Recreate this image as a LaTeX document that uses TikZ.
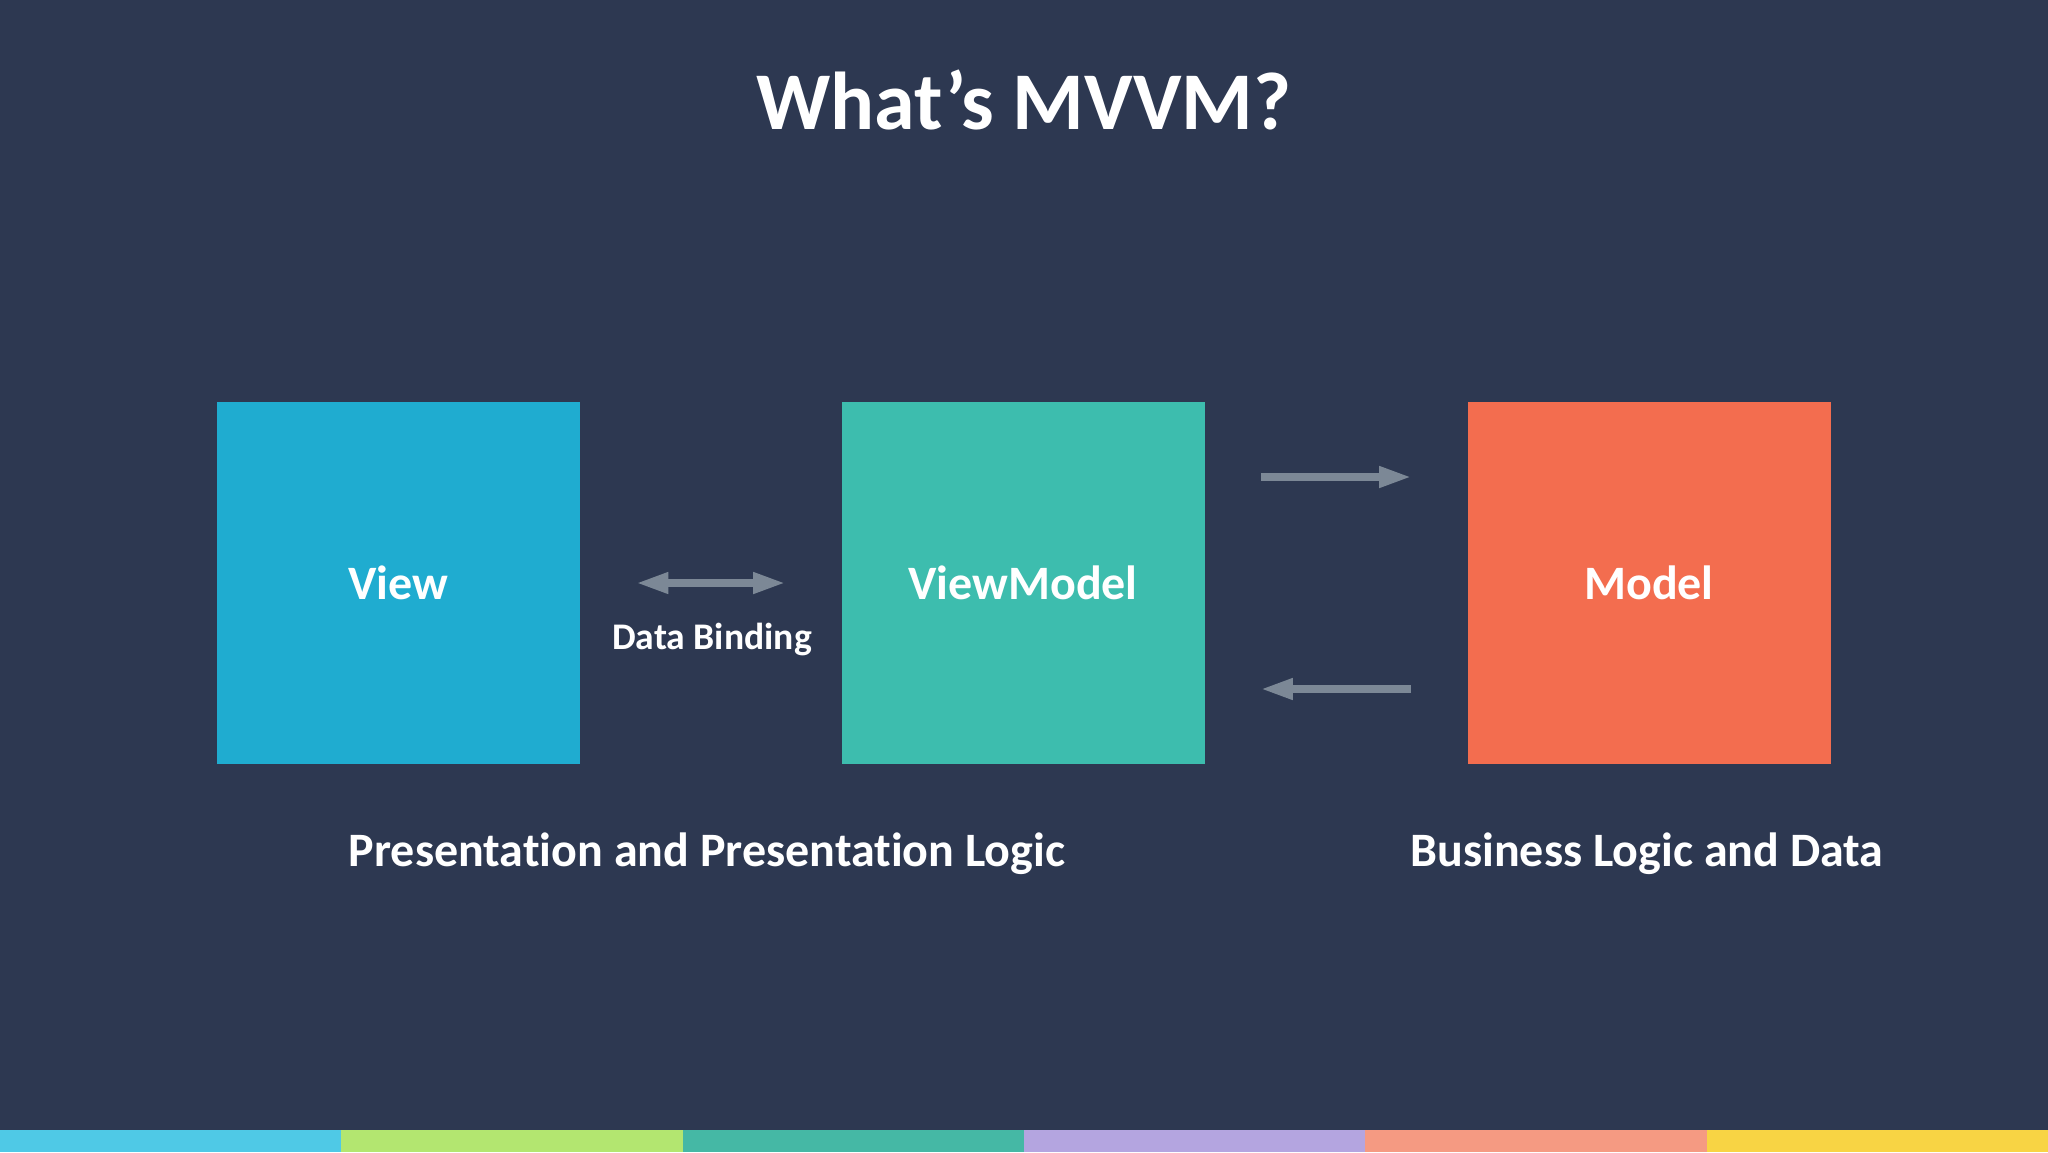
\documentclass[tikz,border=0pt]{standalone}
\usepackage{fontspec}
\setmainfont{Carlito}[Ligatures={NoCommon}]
\usetikzlibrary{arrows.meta}
\definecolor{bg}{HTML}{2D3851}
\definecolor{viewc}{HTML}{1FACD0}
\definecolor{vmc}{HTML}{3DBDAE}
\definecolor{modelc}{HTML}{F36D4F}
\definecolor{arrc}{HTML}{7C8896}
\definecolor{b1}{HTML}{4FC9E6}
\definecolor{b2}{HTML}{B3E670}
\definecolor{b3}{HTML}{45B8A5}
\definecolor{b4}{HTML}{B4A5E0}
\definecolor{b5}{HTML}{F59A82}
\definecolor{b6}{HTML}{F8D444}
\tikzset{
  box/.style={minimum width=181.5pt,minimum height=181pt,inner sep=0pt,text=white,font=\bfseries\fontsize{24}{28}\selectfont},
  lbl/.style={text=white,font=\bfseries\fontsize{24}{28}\selectfont,inner sep=0pt},
  conn/.style={draw=arrc,line width=3.6pt,shorten <=28pt,shorten >=28pt},
  tip/.style={-{Triangle[length=16pt,width=10pt]}},
  dtip/.style={{Triangle[length=16pt,width=10pt]}-{Triangle[length=16pt,width=10pt]}}
}
\begin{document}
\begin{tikzpicture}[x=0.5pt,y=-0.5pt]
\fill[bg] (0,0) rectangle (2048,1152);
\useasboundingbox (0,0) rectangle (2048,1152);
\node[text=white,font=\bfseries\fontsize{41}{48}\selectfont,inner sep=0pt] (title) at (1024,100) {What’s MVVM?};
\node[box,fill=viewc] (view) at (398.5,583) {View};
\node[box,fill=vmc] (vm) at (1023,583) {ViewModel};
\node[box,fill=modelc] (model) at (1649,583) {Model};
\draw[conn,dtip] (view.east) -- (vm.west);
\node[text=white,font=\bfseries\fontsize{18.8}{22}\selectfont,inner sep=0pt] (db) at (712,639) {Data Binding};
\draw[conn,tip] ([yshift=53pt]vm.east) -- ([yshift=53pt]model.west);
\draw[conn,tip] ([yshift=-53pt]model.west) -- ([yshift=-53pt]vm.east);
\node[lbl] (pres) at (707,854) {Presentation and Presentation Logic};
\node[lbl] (bus) at (1647,854) {Business Logic and Data};
\fill[b1] (0,1130) rectangle (341.33,1152);
\fill[b2] (341.33,1130) rectangle (682.67,1152);
\fill[b3] (682.67,1130) rectangle (1024,1152);
\fill[b4] (1024,1130) rectangle (1365.33,1152);
\fill[b5] (1365.33,1130) rectangle (1706.67,1152);
\fill[b6] (1706.67,1130) rectangle (2048,1152);
\end{tikzpicture}
\end{document}
